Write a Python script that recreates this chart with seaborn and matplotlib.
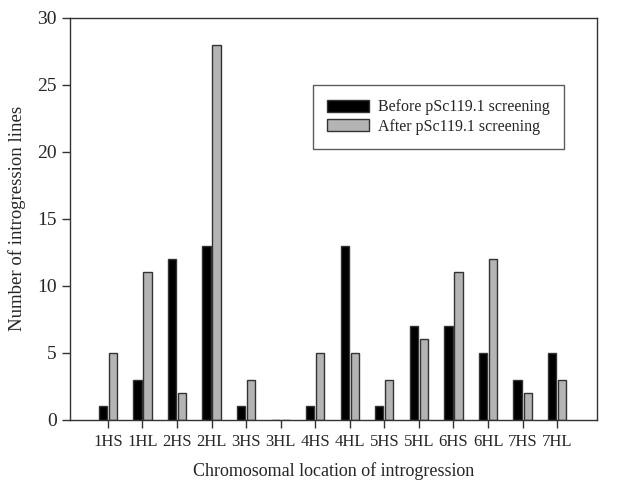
import pandas as pd
import matplotlib
matplotlib.use('Agg')
import matplotlib.pyplot as plt
import seaborn as sns

# chromosome arms and counts
locations = ['1HS', '1HL', '2HS', '2HL', '3HS', '3HL', '4HS',
             '4HL', '5HS', '5HL', '6HS', '6HL', '7HS', '7HL']
before = [1, 3, 12, 13, 1, 0, 1, 13, 1, 7, 7, 5, 3, 5]
after = [5, 11, 2, 28, 3, 0, 5, 5, 3, 6, 11, 12, 2, 3]
series = ['Before pSc119.1 screening', 'After pSc119.1 screening']

df = pd.DataFrame({
    'location': locations * 2,
    'count': before + after,
    'screening': [series[0]] * len(locations) + [series[1]] * len(locations),
})

sns.set_style('ticks')
plt.rcParams['font.family'] = ['Liberation Serif', 'DejaVu Serif']

fig = plt.figure(figsize=(6.29, 4.82), dpi=100)
ax = fig.add_axes([0.111, 0.129, 0.838, 0.834])

sns.barplot(data=df, x='location', y='count', hue='screening', order=locations,
            hue_order=series, palette=['#000000', '#b4b4b4'], width=0.58, gap=0.18,
            edgecolor='#333333', linewidth=1.0, ax=ax)

ax.set_ylim(0, 30)
ax.set_xlim(-1.1, 14.15)
ax.set_yticks(range(0, 31, 5))
ax.set_xlabel('Chromosomal location of introgression', fontsize=13, labelpad=9)
ax.set_ylabel('Number of introgression lines', fontsize=13.5, labelpad=8)
ax.tick_params(axis='x', labelsize=12, length=6, width=1, color='#333333', pad=4)
ax.tick_params(axis='y', labelsize=14, length=6, width=1, color='#333333')
for s in ax.spines.values():
    s.set_color('#333333')
    s.set_linewidth(1.0)

leg = ax.legend(loc='upper left', bbox_to_anchor=(0.461, 0.833), borderaxespad=0,
                fontsize=11.5, frameon=True, fancybox=False, edgecolor='#333333',
                handlelength=2.6, handleheight=0.8, borderpad=0.9,
                labelspacing=0.2, handletextpad=0.6)
leg.get_frame().set_linewidth(1.0)
leg.set_title(None)

fig.savefig('out.png', dpi=100)
